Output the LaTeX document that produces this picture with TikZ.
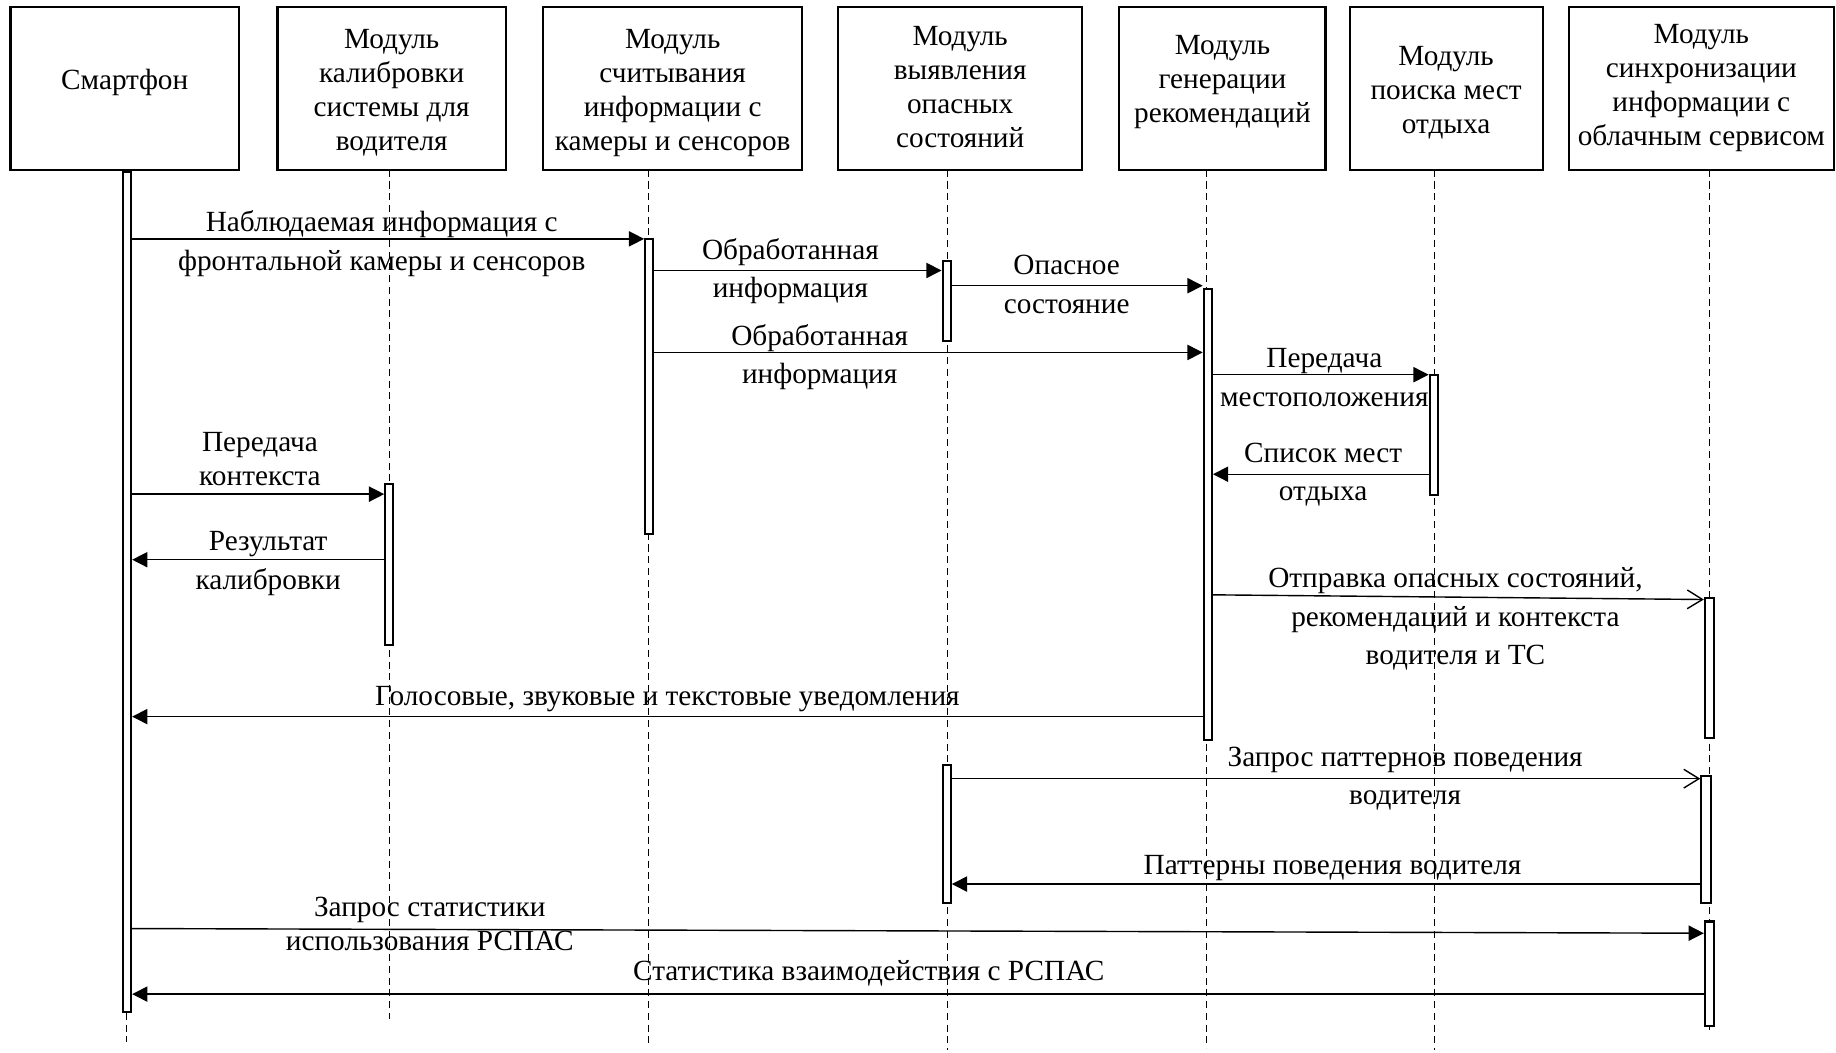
\documentclass[tikz,border=0pt]{standalone}
\usepackage{fontspec}
\setmainfont{Liberation Serif}
\usetikzlibrary{arrows.meta,fit}

\begin{document}
\begin{tikzpicture}[x=0.5pt,y=-0.5pt,
  headbox/.style={draw, line width=0.9pt, inner sep=0pt},
  headtext/.style={align=center, inner sep=0pt, font=\fontsize{12.5}{14.5}\selectfont},
  lifeline/.style={dash pattern=on 3pt off 2pt, line width=0.45pt},
  actbar/.style={draw, fill=white, line width=0.9pt, inner sep=0pt},
  msgsync/.style={line width=0.6pt, -{Triangle[length=6.5pt,width=6.5pt]}},
  msgasync/.style={line width=0.6pt, -{Straight Barb[length=6.5pt,width=8pt,line width=0.6pt]}},
  msglabel/.style={align=center, inner sep=0pt, font=\fontsize{12.5}{16.5}\selectfont},
  msglabeltight/.style={msglabel, font=\fontsize{12.5}{14.5}\selectfont}]

\useasboundingbox (0,0) rectangle (1568,899);

% participant heads
\node[headbox, fit={(9,6) (204,145)}]    (h1) {};
\node[headbox, fit={(237,6) (432,145)}]  (h2) {};
\node[headbox, fit={(464,6) (685,145)}]  (h3) {};
\node[headbox, fit={(716,6) (924,145)}]  (h4) {};
\node[headbox, fit={(956,6) (1132,145)}] (h5) {};
\node[headbox, fit={(1153,6) (1318,145)}] (h6) {};
\node[headbox, fit={(1340,6) (1566,145)}] (h7) {};

\node[headtext] (t1) at (106.5,70) {Смартфон};
\node[headtext] (t2) at (334.5,79.5) {Модуль\\калибровки\\системы для\\водителя};
\node[headtext] (t3) at (574.5,79.5) {Модуль\\считывания\\информации с\\камеры и сенсоров};
\node[headtext] (t4) at (820,74.5) {Модуль\\выявления\\опасных\\состояний};
\node[headtext] (t5) at (1044,70) {Модуль\\генерации\\рекомендаций};
\node[headtext] (t6) at (1235,79) {Модуль\\поиска мест\\отдыха};
\node[headtext] (t7) at (1453,75) {Модуль\\синхронизации\\информации с\\облачным сервисом};

% lifelines
\coordinate (l1a) at (108,145);  \coordinate (l1b) at (108,890);
\coordinate (l2a) at (333,145);  \coordinate (l2b) at (333,870);
\coordinate (l3a) at (554,145);  \coordinate (l3b) at (554,893);
\coordinate (l4a) at (809,145);  \coordinate (l4b) at (809,897);
\coordinate (l5a) at (1030,145); \coordinate (l5b) at (1030,895);
\coordinate (l6a) at (1225,145); \coordinate (l6b) at (1225,897);
\coordinate (l7a) at (1460,145); \coordinate (l7b) at (1460,880);
\foreach \i in {1,...,7} \draw[lifeline] (l\i a) -- (l\i b);

% activation bars
\node[actbar, fit={(105,147) (112,864)}]   (a1) {};
\node[actbar, fit={(329,413) (336,551)}]   (a2) {};
\node[actbar, fit={(551,204) (558,456)}]   (a3) {};
\node[actbar, fit={(805,223) (812,291)}]   (a4) {};
\node[actbar, fit={(805,653) (812,771)}]   (a4b) {};
\node[actbar, fit={(1028,247) (1035,632)}] (a5) {};
\node[actbar, fit={(1221,320) (1228,423)}] (a6) {};
\node[actbar, fit={(1456,511) (1464,630)}] (a7) {};
\node[actbar, fit={(1453,663) (1461,771)}] (a7b) {};
\node[actbar, fit={(1456,787) (1464,876)}] (a7c) {};

% messages
\draw[msgsync]  (a1.east |- 0,204)  -- (a3.west |- 0,204);
\draw[msgsync]  (a3.east |- 0,231)  -- (a4.west |- 0,231);
\draw[msgsync]  (a4.east |- 0,244)  -- (a5.west |- 0,244);
\draw[msgsync]  (a3.east |- 0,301)  -- (a5.west |- 0,301);
\draw[msgsync]  (a5.east |- 0,320)  -- (a6.west |- 0,320);
\draw[msgsync]  (a6.west |- 0,405)  -- (a5.east |- 0,405);
\draw[msgsync]  (a1.east |- 0,422)  -- (a2.west |- 0,422);
\draw[msgsync]  (a2.west |- 0,478)  -- (a1.east |- 0,478);
\draw[msgasync] (a5.east |- 0,508)  -- (a7.west |- 0,512);
\draw[msgsync]  (a5.west |- 0,612)  -- (a1.east |- 0,612);
\draw[msgasync] (a4b.east |- 0,665) -- (a7b.west |- 0,665);
\draw[msgsync]  (a7b.west |- 0,755) -- (a4b.east |- 0,755);
\draw[msgsync]  (a1.east |- 0,793)  -- (a7c.west |- 0,797);
\draw[msgsync]  (a7c.west |- 0,849) -- (a1.east |- 0,849);

% message labels
\node[msglabel] (m1) at (326,208) {Наблюдаемая информация с\\фронтальной камеры и сенсоров};
\node[msglabel] (m2) at (675,231.5) {Обработанная\\информация};
\node[msglabel] (m3) at (911,243) {Опасное\\состояние};
\node[msglabel] (m4) at (700,305) {Обработанная\\информация};
\node[msglabel] (m5) at (1131,322.5) {Передача\\местоположения};
\node[msglabel] (m6) at (1130,405.5) {Список мест\\отдыха};
\node[msglabeltight] (m7) at (222,392) {Передача\\контекста};
\node[msglabel] (m8) at (229,481) {Результат\\калибровки};
\node[msglabel] (m9) at (1243,528.5) {Отправка опасных состояний,\\рекомендаций и контекста\\водителя и ТС};
\node[msglabel] (m10) at (570,597) {Голосовые, звуковые и текстовые уведомления};
\node[msglabel] (m11) at (1200,665) {Запрос паттернов поведения\\водителя};
\node[msglabel] (m12) at (1138,741) {Паттерны поведения водителя};
\node[msglabeltight] (m13) at (367,789) {Запрос статистики\\использования РСПАС};
\node[msglabel] (m14) at (742,831) {Статистика взаимодействия с РСПАС};
\end{tikzpicture}
\end{document}
